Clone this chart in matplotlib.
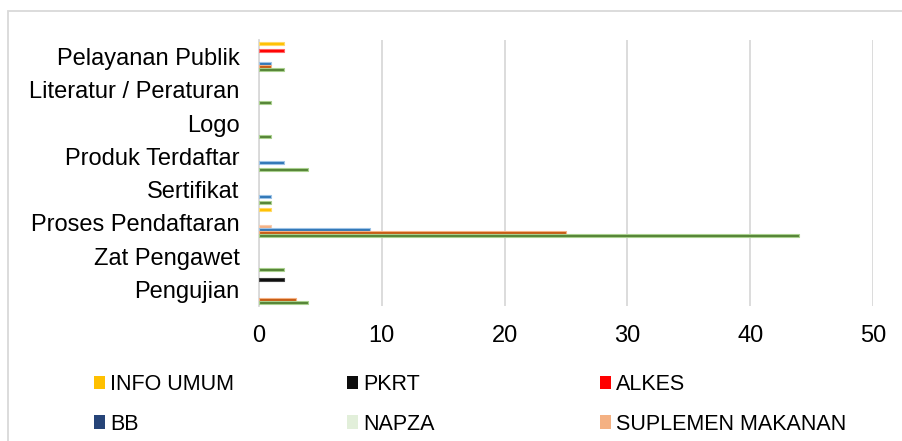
import numpy as np
import matplotlib
matplotlib.use('Agg')
from matplotlib import pyplot as plt
from matplotlib.patches import Rectangle, Patch

plt.rcParams['font.family'] = ['Liberation Sans', 'DejaVu Sans']

# categories, bottom to top
categories = ['Pengujian', 'Zat Pengawet', 'Proses Pendaftaran', 'Sertifikat',
              'Produk Terdaftar', 'Logo', 'Literatur / Peraturan', 'Pelayanan Publik']

# series, top to bottom inside each group
series_names = ['INFO UMUM', 'PKRT', 'ALKES', 'BB', 'NAPZA', 'SUPLEMEN MAKANAN',
                'KOSMETIK', 'OBAT TRADISIONAL', 'PANGAN']
info_umum = [0, 0, 1, 0, 0, 0, 0, 2]
pkrt      = [2, 0, 0, 0, 0, 0, 0, 0]
alkes     = [0, 0, 0, 0, 0, 0, 0, 2]
bb        = [0, 0, 0, 0, 0, 0, 0, 0]
napza     = [0, 0, 0, 0, 0, 0, 0, 0]
suplemen  = [0, 0, 1, 0, 0, 0, 0, 0]
kosmetik  = [0, 0, 9, 1, 2, 0, 0, 1]
obat_trad = [3, 0, 25, 0, 0, 0, 0, 1]
pangan    = [4, 2, 44, 1, 4, 1, 1, 2]
values = [info_umum, pkrt, alkes, bb, napza, suplemen, kosmetik, obat_trad, pangan]

colors = ['#FFC000', '#0D0D0D', '#FF0000', '#264478', '#E2EFDA', '#F4B183',
          '#2E75B6', '#C55A11', '#548235']
edges = ['#FFD966', '#404040', '#FF6666', '#5B7DB8', '#E2EFDA', '#F8CBAD',
         '#9DC3E6', '#F4B183', '#A9D08E']
n_legend = 6

fig = plt.figure(figsize=(9.03, 4.41), dpi=100)
ax = fig.add_axes([259/903, 1-306/441, (873-259)/903, (306-40)/441])

y = np.arange(len(categories))
slot = 0.0977
h = 0.085
for i, (vals, c, e) in enumerate(zip(values, colors, edges)):
    off = (4 - i) * slot
    lw = [0.8 if v else 0 for v in vals]
    ax.barh(y + off, vals, height=h, color=c, edgecolor=e, linewidth=lw, zorder=3)

ax.set_xlim(0, 50)
ax.set_ylim(-0.5, len(categories) - 0.5)
ax.set_xticks([0, 10, 20, 30, 40, 50])
ax.set_yticks(y)
ax.set_yticklabels(categories)
ax.tick_params(axis='both', length=0, labelsize=17, colors='black')
ax.tick_params(axis='x', pad=14)
ax.tick_params(axis='y', pad=14)
ax.grid(axis='x', color='#D9D9D9', linewidth=1.3, zorder=0)
for s in ['top', 'right', 'bottom']:
    ax.spines[s].set_visible(False)
ax.spines['left'].set_color('#D9D9D9')
ax.spines['left'].set_linewidth(1.3)

# chart border (runs off right and bottom edge)
fig.patches.append(Rectangle((7.5/903, -0.1), 1.2, 1.1 - 11/441, transform=fig.transFigure,
                             fill=False, edgecolor='#D9D9D9', linewidth=1.3))

handles = [Patch(facecolor=colors[i], label=series_names[i]) for i in range(n_legend)]
col_x = [94/903, 347/903, 600/903]
for k in range(3):
    fig.legend(handles=handles[k::3], loc='upper left', bbox_to_anchor=(col_x[k], 1-374/441),
               frameon=False, fontsize=15.5, handlelength=0.5, handleheight=0.6,
               handletextpad=0.25, labelspacing=0.86, borderaxespad=0, borderpad=0)

fig.savefig('out.png', dpi=100)
